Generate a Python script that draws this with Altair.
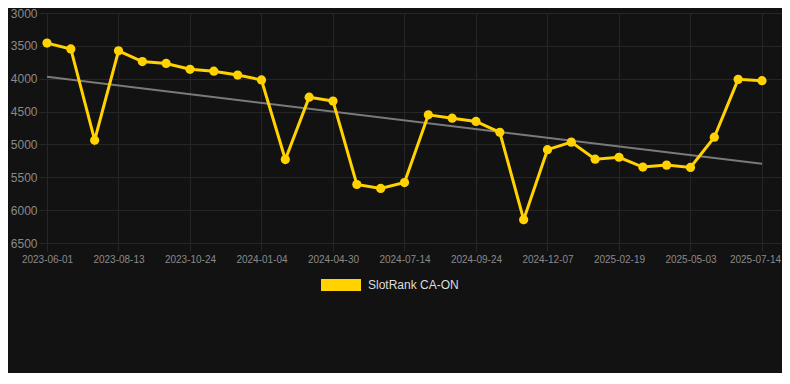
import altair as alt
import pandas as pd

# ---- data ----
dates = [
    "2023-06-01", "2023-06-25", "2023-07-19", "2023-08-13", "2023-09-06",
    "2023-09-30", "2023-10-24", "2023-11-17", "2023-12-11", "2024-01-04",
    "2024-02-12", "2024-03-22", "2024-04-30", "2024-05-24", "2024-06-19",
    "2024-07-14", "2024-08-07", "2024-08-31", "2024-09-24", "2024-10-18",
    "2024-11-12", "2024-12-07", "2024-12-31", "2025-01-25", "2025-02-19",
    "2025-03-15", "2025-04-08", "2025-05-03", "2025-05-27", "2025-06-20",
    "2025-07-14",
]
ranks = [
    3458, 3547, 4935, 3576, 3739, 3768, 3857, 3886, 3945, 4019,
    5230, 4281, 4340, 5610, 5670, 5580, 4550, 4600, 4650, 4815,
    6146, 5080, 4965, 5225, 5195, 5345, 5315, 5350, 4890, 4010,
    4030,
]
series_name = "SlotRank CA-ON"
y_ticks = [3000, 3500, 4000, 4500, 5000, 5500, 6000, 6500]
x_tick_idx = list(range(0, len(dates), 3))
last_idx = len(dates) - 1

df = pd.DataFrame({
    "idx": list(range(len(dates))),
    "date": dates,
    "rank": ranks,
    "series": [series_name] * len(dates),
})

BG = "#121212"
GOLD = "#FFD200"
GRID = "#262626"
LABEL = "#8a8a8a"
FONT = "Liberation Sans"

label_expr = "[" + ",".join(f"'{d}'" for d in dates) + "][datum.value]"

x_enc = alt.X(
    "idx:Q",
    scale=alt.Scale(domain=[0, 30.84], nice=False, zero=False),
    axis=alt.Axis(
        values=x_tick_idx, labelExpr=label_expr, title=None,
        grid=True, gridColor=GRID, domain=False,
        ticks=True, tickColor=GRID, tickSize=8,
        labelColor=LABEL, labelFontSize=10, labelFont=FONT,
        labelPadding=3, labelFlush=False, labelOverlap=False,
        labelOffset={"condition": {"test": f"datum.value == {last_idx}", "value": -7}, "value": 0},
    ),
)
y_enc = alt.Y(
    "rank:Q",
    scale=alt.Scale(domain=[3000, 6500], reverse=True, nice=False, zero=False),
    axis=alt.Axis(
        values=y_ticks, title=None, format="d",
        grid=True, gridColor=GRID, domain=False,
        ticks=True, tickColor=GRID, tickSize=8,
        labelColor=LABEL, labelFontSize=12, labelFont=FONT,
        labelPadding=2,
    ),
)

base = alt.Chart(df)

trend = base.transform_regression("idx", "rank").mark_line(
    color="#7a7a7a", strokeWidth=2
).encode(x=x_enc, y=y_enc)

line = base.mark_line(color=GOLD, strokeWidth=3).encode(x=x_enc, y=y_enc)

points = base.mark_circle(size=85, opacity=1).encode(
    x=x_enc,
    y=y_enc,
    color=alt.Color(
        "series:N",
        scale=alt.Scale(range=[GOLD]),
        legend=alt.Legend(
            title=None, orient="none", legendX=274, legendY=252,
            symbolType="M-1,-0.3H1V0.3H-1Z", symbolSize=1600,
            symbolStrokeWidth=0, symbolOpacity=1,
            labelColor="#dddddd", labelFontSize=12, labelFont=FONT,
            labelOffset=7, padding=0,
        ),
    ),
)

chart = (
    alt.layer(trend, line, points)
    .properties(
        width=735, height=230, background=BG,
        autosize=alt.AutoSizeParams(type="none"),
        padding={"left": 39, "top": 5, "right": 0, "bottom": 130},
    )
    .configure_view(stroke=None)
)

chart.save("out.html", embed_options={"renderer": "svg", "actions": False})
